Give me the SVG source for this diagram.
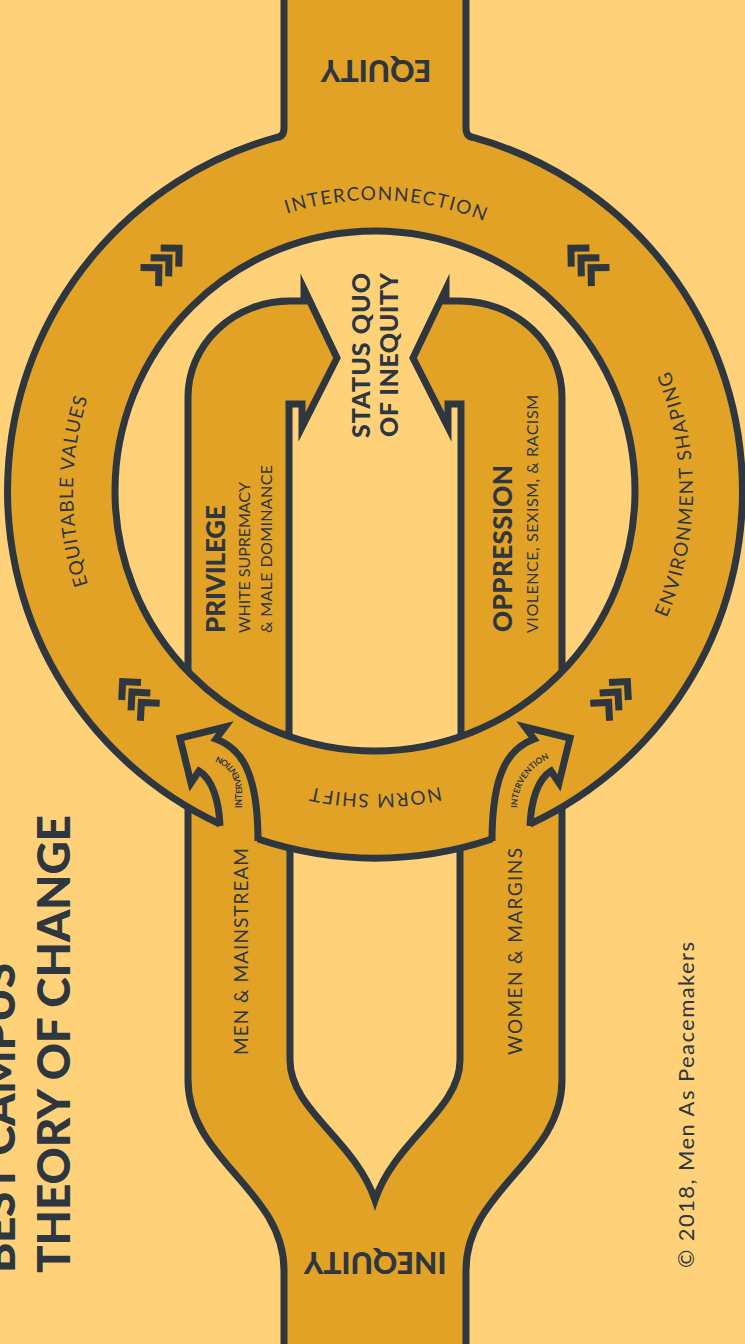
<svg xmlns="http://www.w3.org/2000/svg" width="745" height="1344" viewBox="0 0 745 1344">
<style>
.bg{fill:#FFD27A}
.or{fill:#E2A225}
.ln{fill:none;stroke:#2E3640;stroke-width:7;stroke-linejoin:miter;stroke-miterlimit:10}
.sh{fill:#E2A225;stroke:#2E3640;stroke-width:7;stroke-linejoin:miter;stroke-miterlimit:10}
.ch polyline{fill:none;stroke:#2E3640;stroke-width:7;stroke-linejoin:miter;stroke-miterlimit:6}
text{fill:#2E3640;font-family:Lato,"Liberation Sans",sans-serif;font-weight:400}
.b{font-weight:900}
.m{font-weight:700}
</style>
<defs>
 <clipPath id="innerClip"><circle cx="375" cy="491" r="260"/></clipPath>
 <g id="chev" class="ch">
  <polyline points="-27,-13 -14,0 -27,13"/>
  <polyline points="-13,-13 0,0 -13,13"/>
  <polyline points="1,-13 14,0 1,13"/>
 </g>
 <path id="pInter" d="M187.95,268.1 A291,291 0 0 1 562.05,268.1"/>
 <path id="pEqv" d="M143.7,685.1 A302,302 0 0 1 143.7,296.9"/>
 <path id="pEnv" d="M618.6,695.4 A318,318 0 0 0 618.6,286.6"/>
 <path id="pNorm" d="M569.8,723.1 A303,303 0 0 1 180.2,723.1"/>
 <path id="pIntL" d="M242,814 L242,793 C242,772 230,755 204,754"/>
 <path id="pIntR" d="M517,814 C516,790 526,768 552,757"/>
</defs>
<rect class="bg" x="0" y="0" width="745" height="1344"/>

<g id="body">
 <path class="or" d="M284,-10 L284,128 Q284,137 276,137.6 A367,367 0 0 0 188,807 L188,1080 C188,1160 284,1190 284,1270 L284,1354 L466,1354 L466,1270 C466,1190 562,1160 562,1080 L562,807 A367,367 0 0 0 474,137.6 Q466,137 466,128 L466,-10 Z"/>
 <path class="bg" d="M290,848 L290,1060 C290,1110 355,1140 375,1200 C395,1140 460,1110 460,1060 L460,848 A367,367 0 0 1 290,848 Z"/>
 <circle class="bg" cx="375" cy="491" r="260"/>
</g>

<g id="privilege-oppression" clip-path="url(#innerClip)">
 <path id="privilege" class="sh" d="M289,790 L289,404 L302,404 L302,427 L337,358 L304,289 L304,301 L290,301 A102,96 0 0 0 188,397 L188,790 Z"/>
 <path id="oppression" class="sh" d="M461,790 L461,404 L448,404 L448,427 L413,358 L446,289 L446,301 L460,301 A102,96 0 0 1 562,397 L562,790 Z"/>
</g>

<g id="connectors">
 <circle class="ln" cx="375" cy="491" r="260"/>
 <path class="ln" d="M284,-10 L284,128 Q284,137 276,137.6 A367,367 0 0 0 220,824"/>
 <path class="ln" d="M466,-10 L466,128 Q466,137 474,137.6 A367,367 0 0 1 530,824"/>
 <path class="ln" d="M188,807 L188,1080 C188,1160 284,1190 284,1270 L284,1354"/>
 <path class="ln" d="M562,807 L562,1080 C562,1160 466,1190 466,1270 L466,1354"/>
 <path class="ln" d="M290,848 L290,1060 C290,1110 355,1140 375,1200 C395,1140 460,1110 460,1060 L460,848"/>
 <path class="ln" d="M258,839 A367,367 0 0 0 492,839"/>
 <path id="intervention-left" class="ln" d="M220,826 C219,800 212,779 199,771 L191,783 L180,738 L225,727 L216,739 C240,748 258,770 258,841"/>
 <path id="intervention-right" class="ln" d="M530,826 C531,800 538,779 551,771 L559,783 L570,738 L525,727 L534,739 C510,748 492,770 492,841"/>
</g>

<g id="chevrons">
 <use href="#chev" transform="translate(169,258) rotate(-44)"/>
 <use href="#chev" transform="translate(581,258) rotate(-136)"/>
 <use href="#chev" transform="translate(132,692) rotate(-132)"/>
 <use href="#chev" transform="translate(618,692) rotate(-48)"/>
</g>

<g id="equity"><text class="b" x="376" y="82" font-size="30" text-anchor="middle" transform="rotate(180 376 71)">EQUITY</text></g>
<g id="inequity"><text class="b" x="375" y="1275" font-size="30" text-anchor="middle" transform="rotate(180 375 1263.5)">INEQUITY</text></g>

<g id="ring-labels">
 <text font-size="19" letter-spacing="1.5" text-anchor="middle"><textPath href="#pInter" startOffset="215">INTERCONNECTION</textPath></text>
 <text font-size="19" letter-spacing="1" text-anchor="middle"><textPath href="#pEqv" startOffset="50%">EQUITABLE VALUES</textPath></text>
 <text font-size="19" letter-spacing="1.5" text-anchor="middle"><textPath href="#pEnv" startOffset="219">ENVIRONMENT SHAPING</textPath></text>
 <text font-size="19" letter-spacing="1.5" text-anchor="middle"><textPath href="#pNorm" startOffset="50%">NORM SHIFT</textPath></text>
 <text class="m" font-size="8.5"><textPath href="#pIntL" startOffset="6">INTERVENTION</textPath></text>
 <text class="m" font-size="8.5"><textPath href="#pIntR" startOffset="6">INTERVENTION</textPath></text>
</g>

<g id="status-quo">
 <text class="b" font-size="25" transform="translate(370,438) rotate(-90)" textLength="165" lengthAdjust="spacing">STATUS QUO</text>
 <text class="b" font-size="25" transform="translate(398,437) rotate(-90)" textLength="164" lengthAdjust="spacing">OF INEQUITY</text>
</g>
<g id="privilege-labels">
 <text class="b" font-size="26" transform="translate(225,633) rotate(-90)" textLength="128" lengthAdjust="spacing">PRIVILEGE</text>
 <text font-size="16" transform="translate(250,633) rotate(-90)" textLength="151" lengthAdjust="spacing">WHITE SUPREMACY</text>
 <text font-size="16" transform="translate(272,633) rotate(-90)" textLength="168" lengthAdjust="spacing">&amp; MALE DOMINANCE</text>
</g>
<g id="oppression-labels">
 <text class="b" font-size="26" transform="translate(512,632) rotate(-90)" textLength="167" lengthAdjust="spacing">OPPRESSION</text>
 <text font-size="16" transform="translate(538,633) rotate(-90)" textLength="238" lengthAdjust="spacing">VIOLENCE, SEXISM, &amp; RACISM</text>
</g>
<g id="columns">
 <text font-size="19" transform="translate(248,1055) rotate(-90)" textLength="207" lengthAdjust="spacing">MEN &amp; MAINSTREAM</text>
 <text font-size="19" transform="translate(522,1055) rotate(-90)" textLength="207" lengthAdjust="spacing">WOMEN &amp; MARGINS</text>
</g>
<g id="title">
 <text class="b" font-size="46" transform="translate(15,1273) rotate(-90)" textLength="310" lengthAdjust="spacing">BEST CAMPUS</text>
 <text class="b" font-size="46" transform="translate(70,1273) rotate(-90)" textLength="458" lengthAdjust="spacing">THEORY OF CHANGE</text>
</g>
<g id="credit">
 <text font-size="22" transform="translate(694,1268) rotate(-90)" textLength="326" lengthAdjust="spacing">© 2018, Men As Peacemakers</text>
</g>
</svg>
